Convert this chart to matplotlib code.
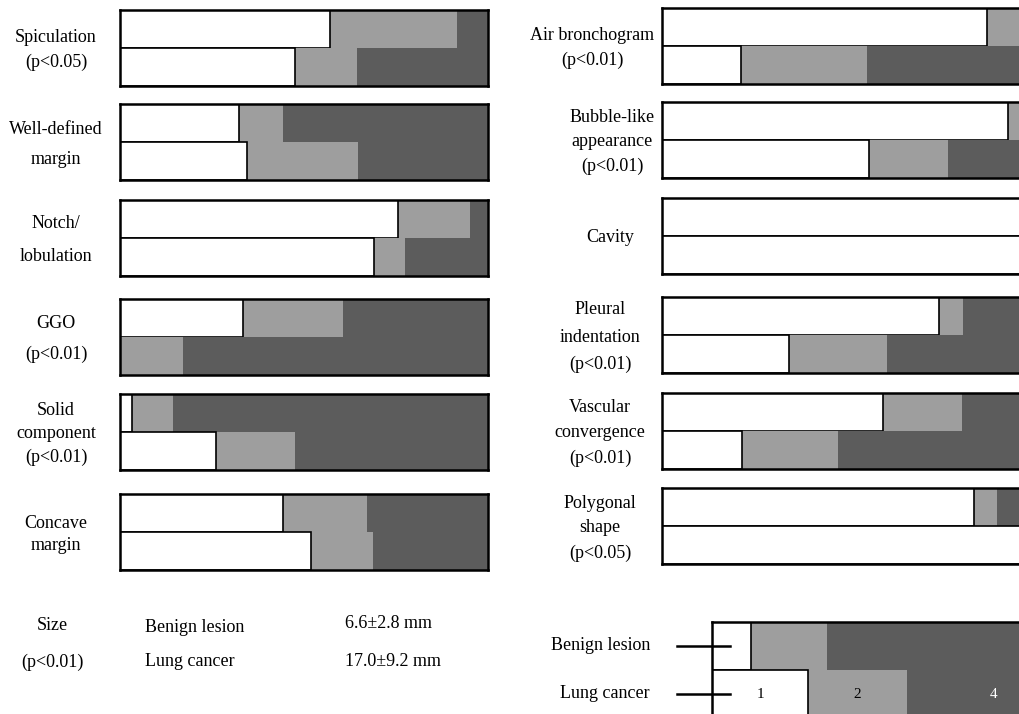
import matplotlib.pyplot as plt

W, H = 1020, 714

# share of each grade (%) : white = 1, light gray = 2, dark gray = rest
left_features = ['Spiculation', 'Well-defined margin', 'Notch/lobulation',
                 'GGO', 'Solid component', 'Concave margin']
left_benign_white = [57.1, 32.3, 75.5, 33.4, 3.3, 44.3]
left_benign_light = [34.5, 12.0, 19.6, 27.2, 11.1, 22.8]
left_cancer_white = [47.6, 34.5, 69.0, 0.0, 26.1, 51.9]
left_cancer_light = [16.8, 30.2, 8.4, 17.1, 21.5, 16.8]

right_features = ['Air bronchogram', 'Bubble-like appearance', 'Cavity',
                  'Pleural indentation', 'Vascular convergence', 'Polygonal shape']
right_benign_white = [88.3, 94.0, 100.0, 75.3, 60.1, 84.8]
right_benign_light = [11.7, 6.0, 0.0, 6.5, 21.5, 6.3]
right_cancer_white = [21.5, 56.3, 100.0, 34.5, 21.7, 100.0]
right_cancer_light = [34.2, 21.5, 0.0, 26.6, 26.1, 0.0]

left_labels = [['Spiculation', '(p<0.05)'], ['Well-defined', 'margin'],
               ['Notch/', 'lobulation'], ['GGO', '(p<0.01)'],
               ['Solid', 'component', '(p<0.01)'], ['Concave', 'margin']]
right_labels = [['Air bronchogram', '(p<0.01)'], ['Bubble-like', 'appearance', '(p<0.01)'],
                ['Cavity'], ['Pleural', 'indentation', '(p<0.01)'],
                ['Vascular', 'convergence', '(p<0.01)'], ['Polygonal', 'shape', '(p<0.05)']]

legend_white = [10.6, 26.1]
legend_light = [20.7, 26.9]
legend_grades = ['1', '2', '4']

size_groups = ['Benign lesion', 'Lung cancer']
size_values = ['6.6\u00b12.8 mm', '17.0\u00b19.2 mm']

LIGHT = '#9e9e9e'
DARK = '#5c5c5c'
FONT = ['Liberation Serif', 'DejaVu Serif']
FS = 13

plt.rcParams['font.family'] = FONT

fig = plt.figure(figsize=(W / 100, H / 100), dpi=100)


def px_axes(x, y, w, h):
    return fig.add_axes([x / W, 1 - (y + h) / H, w / W, h / H])


def px_text(x, y, s, **kw):
    kw.setdefault('fontsize', FS)
    kw.setdefault('ha', 'center')
    kw.setdefault('va', 'center')
    return fig.text(x / W, 1 - y / H, s, **kw)


def draw_panel(ax, whites, lights):
    # row 1 = benign (top), row 0 = lung cancer (bottom)
    for row, (w, l) in zip([1.5, 0.5], zip(whites, lights)):
        d = 100 - w - l
        ax.barh(row, l, left=w, height=1, color=LIGHT, edgecolor='none')
        ax.barh(row, d, left=w + l, height=1, color=DARK, edgecolor='none')
        if w > 0:
            ax.barh(row, w, height=1, color='white', edgecolor='black', linewidth=1.2)
    ax.set_xlim(0, 100)
    ax.set_ylim(0, 2)
    ax.set_xticks([])
    ax.set_yticks([])
    for sp in ax.spines.values():
        sp.set_linewidth(1.8)


left_tops = [10, 104, 200, 299, 394, 494]
left_gaps = [25, 30, 32, 30, 23, 22]
for i in range(6):
    ax = px_axes(120, left_tops[i], 368, 76)
    draw_panel(ax, [left_benign_white[i], left_cancer_white[i]],
               [left_benign_light[i], left_cancer_light[i]])
    lines = left_labels[i]
    yc = left_tops[i] + 40
    for k, s in enumerate(lines):
        px_text(56, yc + (k - (len(lines) - 1) / 2) * left_gaps[i], s)

right_tops = [8, 102, 198, 297, 393, 488]
right_gaps = [24, 24, 0, 27, 25, 25]
right_x = [592, 612, 610, 600, 600, 600]
for i in range(6):
    ax = px_axes(662, right_tops[i], 368, 76)
    draw_panel(ax, [right_benign_white[i], right_cancer_white[i]],
               [right_benign_light[i], right_cancer_light[i]])
    lines = right_labels[i]
    yc = right_tops[i] + 40
    for k, s in enumerate(lines):
        px_text(right_x[i], yc + (k - (len(lines) - 1) / 2) * right_gaps[i], s)

# size summary
px_text(52, 625, 'Size')
px_text(52, 662, '(p<0.01)')
for k, (g, v) in enumerate(zip(size_groups, size_values)):
    px_text(145, 627 + k * 35, g, ha='left')
    px_text(345, 624 + k * 37, v, ha='left')

# legend bar
lax = px_axes(712, 622, 368, 96)
draw_panel(lax, legend_white, legend_light)
for row, g in zip([1.5, 0.5], size_groups):
    lax.plot([-35 / 368 * 100, 18 / 368 * 100], [row, row], color='black',
             linewidth=1.8, clip_on=False)
    px_text(650, 622 + (2 - row) * 48, g, ha='right')
w, l = legend_white[1], legend_light[1]
centers = [w / 2, w + l / 2, (w + l + 100) / 2]
for c, g, col in zip(centers, legend_grades, ['black', 'black', 'white']):
    lax.text(c, 0.5, g, ha='center', va='center', fontsize=11, color=col)

fig.savefig('out.png', dpi=100)
